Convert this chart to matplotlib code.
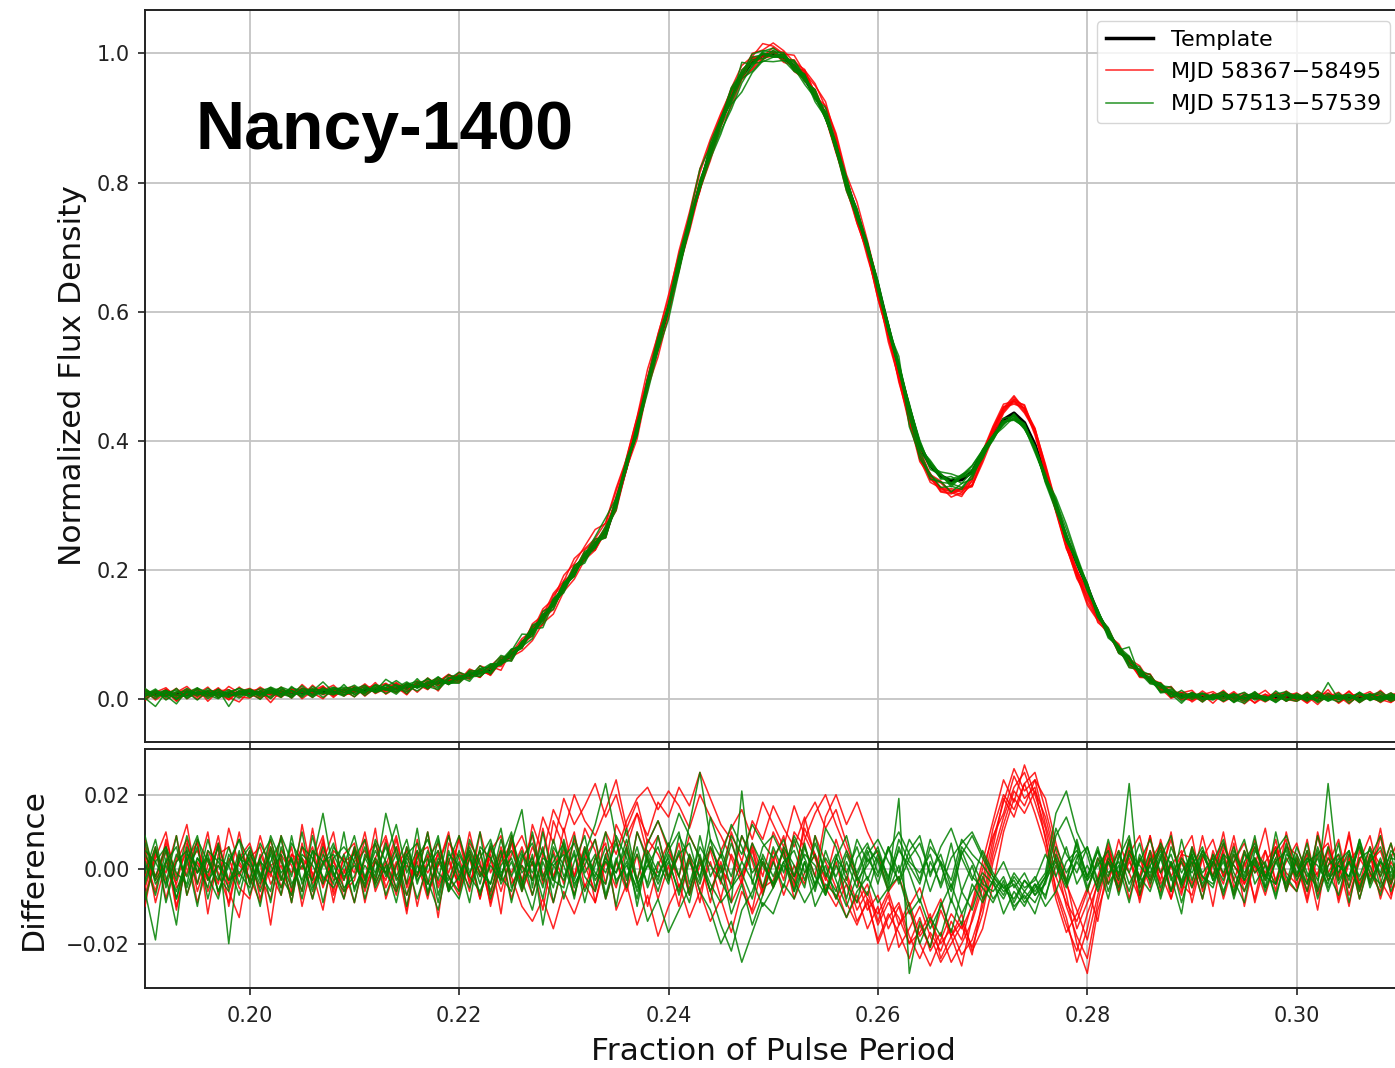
import numpy as np
import matplotlib
matplotlib.use("Agg")
import matplotlib.pyplot as plt
from matplotlib.lines import Line2D
from matplotlib.ticker import FuncFormatter

# ---------------- data ----------------
# pulse-phase bins (0.001 wide) from 0.190 to 0.310
phase = np.round(np.arange(0.190, 0.3105, 0.001), 3)

# template profile, in units of 0.001 of the normalized flux density
template_pm = [
    8, 8, 8, 8, 8, 9, 9, 9, 9, 9,
    10, 10, 10, 10, 11, 11, 11, 12, 12, 13,
    13, 14, 15, 16, 17, 19, 21, 23, 26, 29,
    33, 37, 42, 47, 57, 68, 85, 105, 126, 148,
    173, 198, 220, 240, 258, 303, 362, 418, 489, 548,
    605, 672, 737, 795, 848, 895, 935, 965, 987, 997,
    999, 993, 980, 961, 935, 905, 856, 800, 752, 700,
    640, 575, 512, 450, 392, 362, 346, 338, 340, 352,
    382, 410, 433, 443, 428, 394, 345, 298, 250, 212,
    174, 133, 103, 78, 58, 43, 30, 18, 10, 6,
    5, 4, 4, 4, 3, 3, 3, 3, 3, 3,
    3, 3, 3, 3, 3, 3, 3, 3, 3, 3, 3,
]

# residuals (profile - template) in units of 0.001, MJD 58367-58495 (red)
red_1 = [3, -6, 8, -2, 5, -9, 1, 7, -4, 2,
         -3, 9, -1, -7, 4, 0, 6, -5, 3, -8,
         2, 5, -3, 8, -6, 1, -2, 10, -4, 3,
         -5, 7, 2, -9, 4, -1, 6, -3, 11, -2,
         5, -7, 3, 8, -4, 12, 6, 15, 9, 18,
         14, 22, 17, 26, 19, 12, 8, -3, 5, -6,
         2, 9, -4, 13, 18, 11, 16, 7, -2, -8,
         -12, -6, -15, -9, -18, -14, -20, -16, -23, -19,
         -10, 4, 14, 22, 26, 18, 9, -6, -15, -22,
         -12, -4, 6, -3, 8, -5, 2, 7, -6, 3,
         -4, 9, -2, 5, -7, 1, 6, -3, 8, -5,
         2, -9, 4, 7, -3, 10, -6, 2, 5, -4, 8]
red_2 = [-5, 4, -1, 9, -7, 2, -3, 6, -10, 3,
         7, -2, -8, 5, 1, -6, 11, -4, 2, -3,
         6, -9, 3, -1, 8, -5, 4, -7, 1, 9,
         -2, 4, -8, 6, -3, 9, -6, 2, -11, 5,
         -4, 8, 1, -6, 10, 4, 13, 19, 22, 16,
         21, 17, 11, 20, 14, 9, 3, -4, 7, -2,
         10, 4, -5, 8, 15, 20, 12, 5, -3, -11,
         -7, -16, -10, -20, -13, -22, -17, -25, -20, -14,
         -5, 8, 18, 27, 21, 24, 12, 2, -10, -18,
         -24, -9, 3, -6, 5, -2, 9, -4, 1, -7,
         6, -3, 4, -8, 2, 7, -1, 5, -6, 10,
         -2, 4, -7, 1, 8, -5, 3, -2, 11, -4, 6]
red_3 = [8, -2, 5, -11, 3, 7, -6, 1, -3, 10,
         -4, 2, -15, 4, -1, 6, -3, 8, -7, 0,
         -9, 3, 7, -5, 2, -12, 5, -1, 4, -6,
         9, -3, 1, -7, 6, -2, -10, -14, -8, -16,
         -6, -12, -4, -9, 2, -5, 6, -3, 8, 4,
         -2, 7, -6, 3, -9, 5, 11, 16, 8, 18,
         12, 6, 17, 9, 3, -5, -10, -4, -14, -9,
         -19, -12, -17, -24, -15, -21, -11, -18, -26, -13,
         -3, 11, 20, 16, 23, 15, 6, -8, -17, -12,
         -5, -14, 2, -6, 4, 9, -3, 6, -8, 2,
         -5, 3, -10, 6, 1, -4, 8, -2, 5, -6,
         3, -8, 10, -1, 4, -7, 2, 9, -3, -8, 5]
red_4 = [-2, 6, -8, 3, 12, -4, 5, -1, -9, 4,
         1, -5, 8, -3, 6, -10, 2, 9, -6, 3,
         -1, 10, -4, 2, -7, 6, -2, 4, -13, 7,
         3, -6, 10, -1, 5, -8, 2, 9, -4, 13,
         6, -2, 11, 5, -8, 2, -6, 4, -10, 1,
         7, -5, 3, -9, 6, 0, -4, 9, 2, -7,
         5, -3, 10, 6, -2, 14, 20, 12, 18, 10,
         4, -6, -2, -10, -5, -14, -8, -18, -12, -22,
         -16, -4, 10, 19, 15, 21, 14, 3, -7, -20,
         -28, -11, -2, 5, -8, 3, -5, 8, -2, 4,
         9, -6, 2, -4, 7, -10, 3, -1, 6, -3,
         -6, 5, -2, 12, -8, 3, -4, 6, 1, -5, 9]
red_5 = [6, -9, 2, -4, 7, -1, 10, -7, 3, -5,
         -8, 4, -2, 9, -6, 3, -1, -11, 5, 2,
         4, -3, 11, -8, 1, 5, -10, 3, 7, -2,
         -7, 5, -1, 4, -12, 8, -3, 6, -1, -9,
         2, 10, -5, 3, 7, -11, -4, -15, -7, -18,
         -10, -4, -13, -6, 2, -8, 4, -2, 6, -5,
         -3, 5, -8, -1, 4, -6, 2, -9, -15, -8,
         -20, -13, -9, -18, -24, -17, -22, -14, -19, -9,
         2, 13, 24, 18, 28, 20, 11, -2, -9, -14,
         -6, 3, -4, 8, -1, -8, 4, -3, 10, -6,
         2, -8, 5, -2, 9, -4, 1, -7, 3, 8,
         -5, 2, -11, 6, -1, 4, -8, 3, -2, 7, -3]
red_6 = [-7, 3, 10, -5, -1, 8, -12, 4, 6, -2,
         5, -8, 1, 3, -9, 7, -4, 2, 10, -6,
         -3, 8, -6, 1, 9, -4, 2, -8, 5, -1,
         8, -4, 5, -10, 2, 7, -5, 12, 4, 16,
         10, 20, 13, 9, 16, 24, 11, 18, 7, 13,
         5, -2, 9, 3, -6, 2, -9, -3, -12, -5,
         3, -7, 1, -4, 9, 2, -5, -13, -7, -16,
         -10, -22, -15, -11, -20, -26, -19, -12, -16, -10,
         0, 9, 15, 25, 19, 22, 8, -5, -13, -25,
         -16, -3, 5, -2, 6, -9, 3, -1, 8, -4,
         -7, 4, -2, 10, -5, 2, -8, 5, -3, 6,
         4, -6, 9, -3, 2, -10, 5, -1, -6, 3, 10]
red_7 = [4, -3, 7, -10, 1, 5, -2, 9, -6, -13,
         3, 6, -4, 1, -7, 12, -2, 5, -9, 4,
         7, -5, 2, -3, 6, -11, 8, -4, 1, 10,
         -6, 3, -8, 5, 9, -4, 1, -7, 4, -3,
         11, -2, 6, -9, 4, 8, -5, 10, 3, -8,
         1, -10, 4, -6, -14, -8, -17, -6, -11, 2,
         -5, 6, -2, 11, 4, -3, 8, -1, -9, -4,
         -14, -7, -21, -16, -10, -18, -25, -20, -15, -23,
         -8, 6, 19, 14, 23, 26, 16, 5, -4, -11,
         -19, -7, 4, -5, 2, -3, 9, -6, 1, 5,
         -9, 3, 8, -2, 4, -6, 1, 11, -4, 2,
         7, -3, -1, 5, -9, 2, 6, -4, 9, -7, 1]
red_8 = [-10, 5, -3, 2, 8, -6, 3, -4, 11, 1,
         -2, -9, 6, -5, 4, 2, -8, 7, -3, -1,
         5, -6, 3, 9, -2, -7, 4, 6, -5, 2,
         -4, 10, -2, 3, -6, 4, 9, 1, 14, 7,
         19, 12, 17, 23, 14, 20, 9, 15, 4, 9,
         -3, 4, -7, 1, 5, -4, 10, 2, 13, 8,
         17, 11, 6, 14, 3, -2, -8, -2, -11, -6,
         -15, -9, -13, -20, -17, -12, -24, -18, -14, -21,
         -12, 2, 12, 21, 17, 24, 19, 7, -3, -16,
         -9, -2, 7, -4, 3, -7, 5, -1, -8, 4,
         3, -5, 1, 7, -3, 5, -9, 2, 6, -1,
         -4, 8, -6, 3, -2, 9, -5, 4, -8, 2, -3]

# residuals in units of 0.001, MJD 57513-57539 (green)
green_1 = [2, -7, 5, -3, 9, -1, 4, -6, 1, 8,
           -4, 3, -9, 6, -2, 10, -5, 1, 7, -3,
           5, -8, 2, -1, 6, -4, 11, -7, 3, -2,
           -6, 8, 1, -4, 5, -9, 3, 7, -2, 4,
           -8, 2, 9, -5, 3, -1, 6, -10, 4, -3,
           7, -2, -9, 4, -6, 1, -12, -4, -15, -7,
           2, -5, 8, -1, 4, -7, 3, 9, -2, 5,
           -4, 6, -1, 8, 3, -6, 2, -9, 5, -2,
           -5, -9, -3, -11, -6, -2, -8, 4, -3, 7,
           -2, 5, -6, 3, 9, -4, 1, -7, 6, -1,
           4, -5, 2, 8, -3, -9, 5, 1, -4, 6,
           -2, 7, -6, 3, -1, 5, -8, 2, 6, -3, 4]
green_2 = [-6, -19, 3, -8, 4, 1, -5, 7, -3, 2,
           6, -2, 4, -7, 9, -4, 2, 15, -1, -6,
           3, 8, -5, 1, -9, 4, 7, -3, -11, 2,
           9, -1, 5, -6, 3, 10, -4, 2, -8, 6,
           1, -7, 4, 12, 23, 8, -3, 6, -5, 2,
           -4, 9, 3, -6, -11, -20, -14, -25, -17, -9,
           -12, -4, -8, 2, -6, 5, -3, -10, -2, -7,
           3, -5, 6, -1, -9, 2, -4, 7, -6, 1,
           -8, -3, -12, -6, -10, -4, -7, 1, -5, 3,
           6, -4, 8, -2, 23, -7, 3, -5, 2, -9,
           1, 6, -3, 4, -8, 2, 7, -2, 5, -6,
           3, -4, 9, -1, -7, 4, -2, 6, -5, 1, -8]
green_3 = [5, 2, -4, 9, -7, 3, -1, 6, -20, 4,
           -3, 7, 1, -5, 3, -8, 5, 2, -4, 10,
           -6, 3, -2, 15, 4, -7, 1, -4, 8, -5,
           2, -9, 6, 3, -2, 7, 16, -5, 10, -3,
           6, -4, 1, 8, -7, 3, -5, 10, 2, -6,
           4, -2, 12, 26, 8, -3, -9, 21, -4, 6,
           9, 3, -2, 7, -5, 11, 6, -3, 8, 2,
           5, -4, 19, -28, -14, -21, -9, -17, -6, -11,
           -2, -8, -4, -10, -7, -12, -3, 9, 14, 6,
           -5, 2, -8, 4, -1, 7, -4, 3, -6, 8,
           -3, 5, 1, -7, 4, -2, 9, -5, 2, -4,
           6, -1, -5, 23, -3, 2, -6, 4, -1, 7, -4]
green_4 = [-3, 6, -9, 2, 5, -4, 8, -2, -6, 3,
           1, -10, 5, -3, 7, 2, -6, 4, -1, -8,
           6, -2, 3, -7, 1, 8, -4, 5, -3, 9,
           -1, 4, -7, 2, 11, -5, 1, -3, 6, -9,
           3, 7, -2, -6, 4, -10, 5, -3, -14, -8,
           -17, -11, -5, 2, -6, -15, -22, -11, -6, 2,
           -4, 6, 1, -5, 9, -2, 4, -8, 3, 7,
           -1, 5, 10, 4, -3, 8, 1, -6, 4, 9,
           3, -2, -6, -4, -9, -5, -1, 15, 21, 10,
           4, -6, 2, -3, 8, -5, 1, 6, -2, -12,
           5, -1, 3, -6, 2, 8, -4, 1, -7, 3,
           -2, 5, -8, 1, 4, -3, 7, -5, 2, -1, 6]
green_5 = [7, -4, 1, -6, 3, -10, 5, 2, -3, -1,
           -5, 3, 8, -2, -7, 4, 1, -4, 6, 2,
           -9, 4, -1, 6, -3, 2, -8, 1, 5, -6,
           4, -2, 10, -8, 1, 5, -3, -11, 2, -5,
           8, -3, 5, -1, -4, 9, 3, -6, 1, -2,
           5, 10, -4, 6, 1, -3, 7, -1, -8, 4,
           -2, 5, -6, 2, -10, -4, -7, -13, -6, -2,
           -9, -5, -2, -12, -8, -16, -10, -4, -12, -6,
           -1, -4, -8, -2, -6, -9, -3, 2, -4, 8,
           -3, 1, 5, -7, 4, -2, -6, 3, 9, -4,
           2, -8, 4, -1, 6, -3, 2, -5, 10, -2,
           -6, 3, 1, -4, 7, -9, 3, 5, -2, 4, -7]
green_6 = [-1, 8, -5, 4, -2, 6, -8, 3, 1, -7,
           4, -1, -6, 9, 2, -3, 5, -9, 3, 6,
           2, -5, 7, -2, 4, -10, 3, 8, -1, -4,
           -8, 3, -2, 6, -4, 2, -6, 4, -15, 1,
           -3, 5, -9, 3, -1, 7, -2, 4, -4, 9,
           -2, 4, 7, -3, 14, 5, -2, 9, 3, -5,
           6, -1, 9, 3, -4, 1, -8, 2, -5, 4,
           8, 2, -3, 5, 9, -2, 6, 11, 3, -3,
           5, -1, -5, -3, -8, -4, -10, -6, 2, 5,
           -2, 6, -4, 1, -9, 3, -1, 5, -3, 2,
           -5, 4, -2, 7, -1, -6, 3, -3, 5, 9,
           1, -4, 6, -2, 3, -5, 8, -1, -4, 5, 2]
green_7 = [4, -2, 6, -8, 2, 9, -3, 1, -5, 5,
           -7, 2, -1, 4, -9, 6, 3, -2, -5, 1,
           9, -3, 5, -1, -6, 3, -2, 10, -7, 4,
           1, -5, 3, 8, -2, -6, 4, -1, 5, -3,
           -5, 9, -1, 4, -8, 2, 11, -3, 7, 13,
           6, 15, 9, 3, -4, -9, -5, 2, -3, -10,
           -5, 1, -3, -9, -4, 3, -2, 5, -1, 6,
           2, -6, 1, -10, -20, -13, -18, -8, -15, -4,
           -9, -3, -7, -1, -5, -3, 4, -2, 6, -4,
           1, -5, 3, -1, 7, -3, 5, -8, 2, -4,
           6, -2, -4, 3, -7, 5, -1, 2, -8, 4,
           2, -6, 5, -3, 1, -2, 8, -4, 3, -6, 1]
green_8 = [-4, 5, -2, -15, 6, -1, 3, -6, 2, 8,
           2, -4, 6, -1, 3, -6, 9, -3, 1, -5,
           -2, 6, -4, 3, 12, -1, 5, -6, 2, -3,
           5, -2, -6, 1, -3, 9, -1, 3, -5, 8,
           -2, 4, -6, 1, 10, -4, 2, -8, 5, -1,
           3, -7, 2, -4, 6, -1, 9, 4, 12, 7,
           3, 8, -2, 4, 1, -6, 3, -1, 6, -3,
           4, -2, 5, 1, -4, 6, 2, -3, 8, 4,
           1, -3, 2, -5, -1, -7, -2, 11, 4, -1,
           6, -3, 2, -5, 5, 1, -3, 4, -6, 3,
           -1, 5, -3, 2, -6, 4, 1, -2, 3, -5,
           4, -2, 3, -6, 2, 5, -3, 1, -7, 3, 2]
green_9 = [9, -3, 2, 6, -5, 3, -2, -8, 4, -1,
           3, -6, 2, 8, -4, 1, -3, 6, -2, 4,
           -5, 1, -3, 7, -2, 4, -1, 3, -9, 5,
           -3, 6, -1, -4, 8, -2, 5, -7, 3, 1,
           4, -8, 6, -3, 2, -1, 8, -4, 1, 6,
           -3, 5, -7, 9, -2, 4, -5, -1, 7, 1,
           -4, 2, -6, 6, -2, -7, 1, -4, -9, 3,
           -2, 6, -4, 3, 7, -1, 4, -5, 6, 2,
           -4, -6, -2, -9, -3, -7, -4, 6, -1, 4,
           -6, 3, -2, 5, -4, 2, 8, -1, 4, -5,
           3, -2, -5, 4, 1, -3, 6, -2, -4, 7,
           -1, 3, -3, 6, -4, 2, -5, 3, 9, -2, 4]
green_10 = [-8, 2, 6, -1, -4, 8, 2, -3, 6, -4,
            5, -3, 9, 2, -5, 3, -8, 2, 4, -2,
            1, -4, 8, 2, -5, 6, -3, 1, 9, -6,
            -2, 5, -4, 7, -1, 3, -5, 10, -3, 2,
            7, -5, 3, -2, 6, -3, 1, -5, 3, -4,
            2, -6, 4, -2, 8, 3, 12, 6, -1, 3,
            -5, 2, 5, -3, 7, -1, -6, 4, -3, 1,
            6, -3, 8, 2, -1, 4, -5, 3, 7, 10,
            4, -2, -5, -8, -3, -6, -2, 3, -4, 2,
            -3, 5, -1, 2, -6, 4, -2, 7, 1, -3,
            4, -4, 2, -3, 5, -1, 3, -6, 2, 5,
            -3, 2, 4, -5, 1, -2, 6, -3, 2, -4, 3]

x_ticks = [0.20, 0.22, 0.24, 0.26, 0.28, 0.30]
y_ticks_top = [0.0, 0.2, 0.4, 0.6, 0.8, 1.0]
y_ticks_bottom = [-0.02, 0.0, 0.02]
label_template = "Template"
label_red = "MJD 58367\u221258495"
label_green = "MJD 57513\u221257539"
source_label = "Nancy-1400"

red_sets = [red_1, red_2, red_3, red_4, red_5, red_6, red_7, red_8]
green_sets = [green_1, green_2, green_3, green_4, green_5, green_6,
              green_7, green_8, green_9, green_10]

# ---------------- figure ----------------
W, H = 1395, 1068
fig = plt.figure(figsize=(W / 100, H / 100), dpi=100)
ax_left = 145 / W
ax_width = 1256.4 / W
ax1 = fig.add_axes([ax_left, 1 - 742 / H, ax_width, (742 - 10) / H])
ax2 = fig.add_axes([ax_left, 1 - 988.3 / H, ax_width, (988.3 - 749.3) / H],
                   sharex=ax1)

template = np.asarray(template_pm, float) / 1000.0
n = len(phase)
RED = "#ff0000"
GREEN = "#008000"
LW = 1.1
ALPHA = 0.85

ax1.plot(phase[:len(template)], template[:n], color="black", lw=2.5, zorder=2)
for r in red_sets:
    rr = np.asarray(r, float)[:n] / 1000.0
    m = min(len(rr), len(template))
    ax1.plot(phase[:m], template[:m] + rr[:m], color=RED, lw=LW, alpha=ALPHA, zorder=3)
    ax2.plot(phase[:len(rr)], rr, color=RED, lw=LW, alpha=ALPHA, zorder=3)
for g in green_sets:
    gg = np.asarray(g, float)[:n] / 1000.0
    m = min(len(gg), len(template))
    ax1.plot(phase[:m], template[:m] + gg[:m], color=GREEN, lw=LW, alpha=ALPHA, zorder=4)
    ax2.plot(phase[:len(gg)], gg, color=GREEN, lw=LW, alpha=ALPHA, zorder=4)

ax1.set_xlim(0.19, 0.31)
ax1.set_ylim(-0.066, 1.067)
ax2.set_ylim(-0.032, 0.0322)

for ax in (ax1, ax2):
    ax.grid(True, color="#c4c4c4", lw=1.3)
    ax.set_axisbelow(True)
    for side, sp in ax.spines.items():
        sp.set_linewidth(1.4)
        sp.set_color("#222222")
    ax.spines["right"].set_visible(False)
    ax.tick_params(direction="out", length=5, width=1.2, labelsize=15,
                   colors="#222222", labelcolor="#222222")
    ax.tick_params(axis="y", pad=6)
    ax.tick_params(axis="x", pad=8)

ax1.set_yticks(y_ticks_top)
ax1.yaxis.set_major_formatter(FuncFormatter(lambda v, p: f"{v:.1f}"))
ax2.set_yticks(y_ticks_bottom)
ax2.yaxis.set_major_formatter(
    FuncFormatter(lambda v, p: f"{v:.2f}".replace("-", "\u2212") if abs(v) > 1e-9 else "0.00"))
ax2.set_xticks(x_ticks)
ax2.xaxis.set_major_formatter(FuncFormatter(lambda v, p: f"{v:.2f}"))
ax1.tick_params(labelbottom=False)

ax1.set_ylabel("Normalized Flux Density", fontsize=22.5, color="#111111", labelpad=7)
ax2.set_ylabel("Difference", fontsize=22.5, color="#111111", labelpad=13)
ax2.set_xlabel("Fraction of Pulse Period", fontsize=22.5, color="#111111", labelpad=8)

ax1.text(0.0398, 0.81, source_label, transform=ax1.transAxes,
         fontsize=49, fontweight="bold", family=["Liberation Sans", "DejaVu Sans"],
         ha="left", va="baseline", color="black")

handles = [Line2D([], [], color="black", lw=2.5),
           Line2D([], [], color=RED, lw=LW, alpha=ALPHA),
           Line2D([], [], color=GREEN, lw=LW, alpha=ALPHA)]
leg = ax1.legend(handles, [label_template, label_red, label_green],
                 loc="upper right", fontsize=16, framealpha=0.8,
                 borderaxespad=0.5, handlelength=2.15, labelspacing=0.55)
leg.get_frame().set_edgecolor("#cccccc")

fig.savefig("out.png", dpi=100)
